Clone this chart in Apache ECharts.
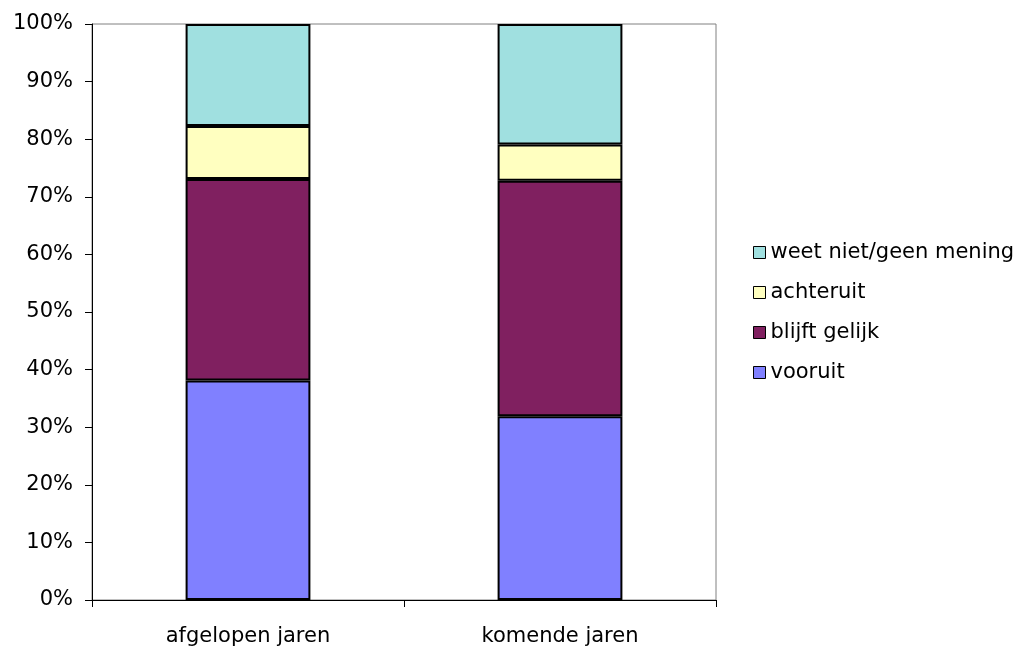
<!DOCTYPE html>
<html>
<head>
<meta charset="utf-8">
<script src="https://cdn.jsdelivr.net/npm/echarts@6/dist/echarts.min.js"></script>
<style>
  html, body { margin: 0; padding: 0; background: #fff; }
  #chart { width: 1022px; height: 648px; }
</style>
</head>
<body>
<div id="chart"></div>
<script>
// Categories and stacked shares (percent of respondents)
const categories = ['afgelopen jaren', 'komende jaren'];
const vooruit = [38.1, 31.9];
const blijftGelijk = [35.0, 40.9];
const achteruit = [9.2, 6.3];
const weetNiet = [17.7, 20.9];

const seriesNames = ['vooruit', 'blijft gelijk', 'achteruit', 'weet niet/geen mening'];
const seriesColors = ['#8080FF', '#802060', '#FFFFC0', '#A0E0E0'];
const seriesValues = [vooruit, blijftGelijk, achteruit, weetNiet];

const font = '"DejaVu Sans", Arial, sans-serif';

const chart = echarts.init(document.getElementById('chart'), null, { renderer: 'canvas' });

chart.setOption({
  animation: false,
  backgroundColor: '#fff',
  grid: { left: 92, right: 306, top: 24, bottom: 48, show: true, borderColor: '#808080', borderWidth: 1, backgroundColor: 'transparent' },
  legend: {
    orient: 'vertical',
    left: 748,
    top: 237,
    itemWidth: 12,
    itemHeight: 12,
    itemGap: 19,
    icon: 'rect',
    data: seriesNames.slice().reverse(),
    textStyle: { fontFamily: font, fontSize: 21, color: '#000', padding: [0, 0, 0, 0] },
    itemStyle: { borderColor: '#000', borderWidth: 1 }
  },
  xAxis: {
    type: 'category',
    data: categories,
    axisLine: { show: true, lineStyle: { color: '#000' } },
    axisTick: { show: true, alignWithLabel: false, length: 7, lineStyle: { color: '#000' } },
    axisLabel: { fontFamily: font, fontSize: 21, color: '#000', margin: 26 }
  },
  yAxis: {
    type: 'value',
    min: 0,
    max: 100,
    interval: 10,
    axisLine: { show: true, lineStyle: { color: '#000' } },
    axisTick: { show: true, length: 7, lineStyle: { color: '#000' } },
    splitLine: { show: false },
    axisLabel: { fontFamily: font, fontSize: 21, color: '#000', margin: 19, formatter: '{value}%' }
  },
  series: seriesNames.map((name, i) => ({
    name: name,
    type: 'bar',
    stack: 'total',
    barWidth: '40%',
    data: seriesValues[i],
    itemStyle: { color: seriesColors[i], borderColor: '#000', borderWidth: 2 }
  }))
});
</script>
</body>
</html>
